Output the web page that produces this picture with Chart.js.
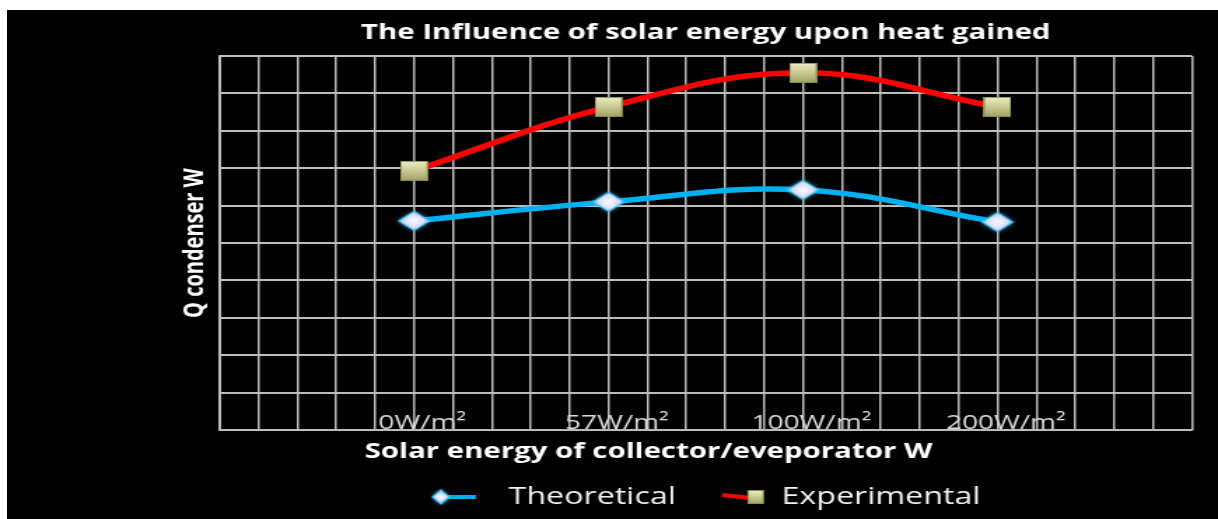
<!DOCTYPE html>
<html>
<head>
<meta charset="utf-8">
<script src="https://cdn.jsdelivr.net/npm/chart.js@4.4.0/dist/chart.umd.min.js"></script>
<style>
  html, body { margin:0; padding:0; width:1218px; height:519px; overflow:hidden; background:#fff; }
  #fondo { position:absolute; left:7px; top:10px; right:0; bottom:0; background:#000; }
  /* el original está estirado en horizontal, se imita con scaleX */
  #lienzo { position:absolute; left:7px; top:10px; width:1000px; height:509px; transform:scaleX(1.4); transform-origin:0 0; }
</style>
</head>
<body>
<div id="fondo"></div>
<div id="lienzo"><canvas id="grafica" width="1000" height="509"></canvas></div>
<script>
// ==========================================
// DATOS
// ==========================================
const categorias = ['0W/m²', '57W/m²', '100W/m²', '200W/m²'];
const teorico = [5.59, 6.10, 6.42, 5.56];
const experimental = [6.93, 8.64, 9.55, 8.64];

const AZUL = '#00b0f0';
const ROJO = '#ff0000';
const REJILLA = '#bcbcbc';
const FUENTE = 'Open Sans';

// ==========================================
// MARCADORES (canvas como pointStyle)
// ==========================================
function pintarCuadro(g, x, y, w, h) {
    const grad = g.createLinearGradient(0, y, 0, y + h);
    grad.addColorStop(0, '#eeedc2');
    grad.addColorStop(0.45, '#cdce96');
    grad.addColorStop(1, '#9ea165');
    g.fillStyle = grad;
    g.fillRect(x, y, w, h);
    g.strokeStyle = '#8a8d55';
    g.lineWidth = 1;
    g.strokeRect(x + 0.5, y + 0.5, w - 1, h - 1);
}

function pintarRombo(g, cx, cy, w, h) {
    g.save();
    g.beginPath();
    g.moveTo(cx, cy - h / 2);
    g.lineTo(cx + w / 2, cy);
    g.lineTo(cx, cy + h / 2);
    g.lineTo(cx - w / 2, cy);
    g.closePath();
    const grad = g.createRadialGradient(cx, cy, 1, cx, cy, w / 2);
    grad.addColorStop(0, '#f6f4ff');
    grad.addColorStop(0.6, '#d8def4');
    grad.addColorStop(1, '#8fd2f2');
    g.fillStyle = grad;
    g.shadowColor = '#2fb6f0';
    g.shadowBlur = 4;
    g.fill();
    g.shadowBlur = 0;
    g.strokeStyle = '#47bdf0';
    g.lineWidth = 1.2;
    g.stroke();
    g.restore();
}

function crearCanvas(w, h) {
    const c = document.createElement('canvas');
    c.width = w; c.height = h;
    return c;
}

const marcadorCuadro = crearCanvas(20, 20);
pintarCuadro(marcadorCuadro.getContext('2d'), 0, 0, 20, 20);

const marcadorRombo = crearCanvas(28, 26);
pintarRombo(marcadorRombo.getContext('2d'), 14, 13, 22, 19);

// iconos de la leyenda (línea + marcador)
const iconoTeorico = crearCanvas(44, 22);
(() => {
    const g = iconoTeorico.getContext('2d');
    g.strokeStyle = AZUL; g.lineWidth = 4;
    g.beginPath(); g.moveTo(7, 11); g.lineTo(32, 11); g.stroke();
    pintarRombo(g, 7, 11, 12, 14);
})();

const iconoExperimental = crearCanvas(44, 22);
(() => {
    const g = iconoExperimental.getContext('2d');
    g.strokeStyle = ROJO; g.lineWidth = 4;
    g.beginPath(); g.moveTo(13, 9); g.lineTo(34, 12); g.stroke();
    pintarCuadro(g, 31, 4, 12, 14);
})();

const iconos = [iconoTeorico, iconoExperimental];

// ==========================================
// GRÁFICA
// ==========================================
const ctx = document.getElementById('grafica').getContext('2d');

new Chart(ctx, {
    type: 'line',
    data: {
        datasets: [
            {
                label: 'Theoretical',
                data: categorias.map((c, i) => ({ x: i, y: teorico[i] })),
                borderColor: AZUL,
                borderWidth: 5.5,
                tension: 0.4,
                pointStyle: marcadorRombo,
                pointRadius: 10,
                fill: false
            },
            {
                label: 'Experimental',
                data: categorias.map((c, i) => ({ x: i, y: experimental[i] })),
                borderColor: ROJO,
                borderWidth: 5.5,
                tension: 0.4,
                pointStyle: marcadorCuadro,
                pointRadius: 10,
                fill: false
            }
        ]
    },
    options: {
        responsive: false,
        animation: false,
        devicePixelRatio: 1,
        layout: { padding: { left: 121.8, right: 153.6, top: 0, bottom: 0.5 } },
        scales: {
            x: {
                type: 'linear',
                min: -1,
                max: 4,
                grid: { color: REJILLA, lineWidth: 1.5, drawTicks: false },
                border: { color: REJILLA, width: 1.5 },
                ticks: {
                    stepSize: 0.2,
                    autoSkip: false,
                    maxRotation: 0,
                    mirror: true,   // etiquetas dentro del área, sobre la última fila
                    padding: -5,
                    labelOffset: 6,
                    color: '#dcdcdc',
                    font: { family: FUENTE, size: 20 },
                    callback: (v) => {
                        const i = Math.round(v);
                        if (Math.abs(v - i) < 1e-6 && i >= 0 && i < categorias.length) return categorias[i];
                        return '';
                    }
                },
                title: {
                    display: true,
                    // espacios al final para correr el título a la izquierda como en el original
                    text: 'Solar energy of collector/eveporator W' + '\u00a0'.repeat(15),
                    color: '#ffffff',
                    font: { family: FUENTE, size: 21, weight: 'bold' },
                    padding: { top: 19.4, bottom: 0.9 }
                }
            },
            y: {
                min: 0,
                max: 10,
                grid: { color: REJILLA, lineWidth: 2, drawTicks: false },
                border: { color: REJILLA, width: 2 },
                ticks: { display: false, stepSize: 1 },
                title: {
                    display: true,
                    text: 'Q condenser W',
                    color: '#ffffff',
                    font: { family: FUENTE, size: 20, weight: 'bold' },
                    padding: { top: 0, bottom: 6 }
                }
            }
        },
        plugins: {
            title: {
                display: true,
                fullSize: false,
                text: 'The Influence of solar energy upon heat gained',
                color: '#ffffff',
                font: { family: FUENTE, size: 21, weight: 'bold' },
                padding: { top: 10.4, bottom: 10.4 }
            },
            legend: {
                position: 'bottom',
                fullSize: false,
                labels: {
                    usePointStyle: true,
                    pointStyleWidth: 44,
                    padding: 20,
                    color: '#f2f2f2',
                    font: { family: FUENTE, size: 23 },
                    generateLabels: (chart) => chart.data.datasets.map((ds, i) => ({
                        text: ds.label,
                        pointStyle: iconos[i],
                        fontColor: '#f2f2f2',
                        fillStyle: 'transparent',
                        strokeStyle: 'transparent',
                        lineWidth: 0,
                        hidden: false,
                        datasetIndex: i
                    }))
                }
            },
            tooltip: { enabled: false }
        }
    }
});
</script>
</body>
</html>
